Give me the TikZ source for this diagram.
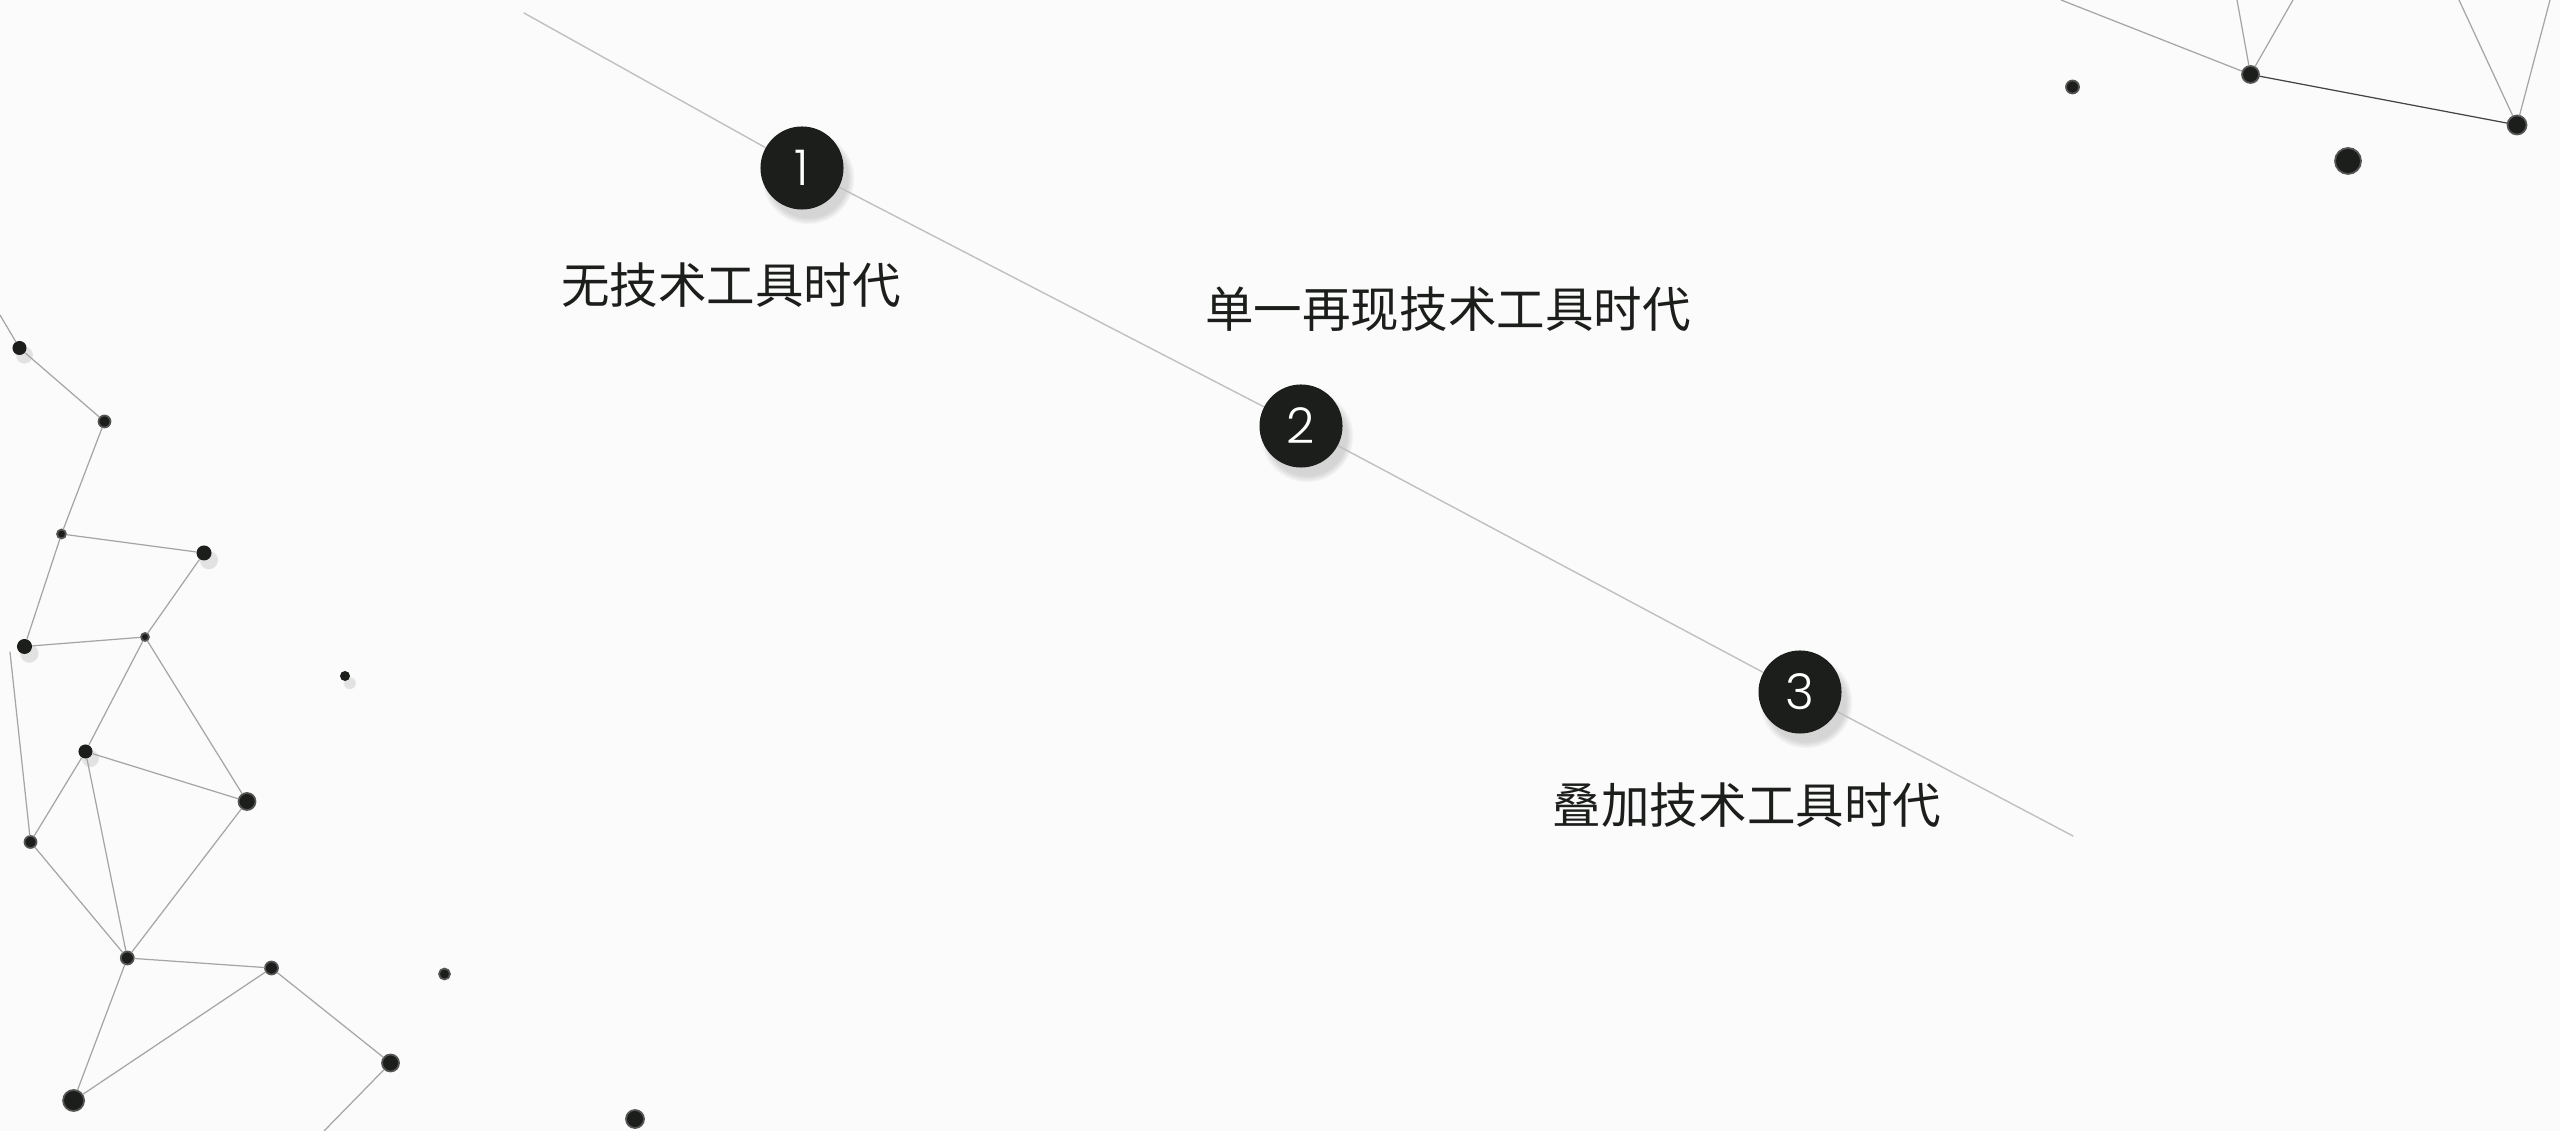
\documentclass[tikz,border=0pt]{standalone}
\usepackage{fontspec}
\newfontfamily\cjk{Noto Sans CJK SC}
\newfontfamily\numfont{Poppins Light}
\usetikzlibrary{shadows}
\definecolor{bgpaper}{RGB}{251,251,251}
\definecolor{inkdark}{RGB}{28,30,27}
\definecolor{rimgray}{RGB}{85,85,85}
\definecolor{linegray}{RGB}{192,192,192}
\definecolor{netgray}{RGB}{165,165,165}

\begin{document}
\begin{tikzpicture}[line cap=round,line join=round,x=0.01cm,y=-0.01cm,
  stage/.style={circle,inner sep=0pt,minimum size=0.83cm,fill=inkdark,text=white,
    font=\numfont\fontsize{14}{14}\selectfont,
    circular drop shadow={shadow xshift=1.5pt,shadow yshift=-2.5pt,shadow scale=1.12,opacity=0.3}},
  era/.style={text=inkdark,font=\cjk\fontsize{13.8}{16}\selectfont},
  knot/.style={circle,inner sep=0pt,minimum size=#1,fill=inkdark,draw=rimgray,line width=0.5pt},
  knotb/.style={circle,inner sep=0pt,minimum size=#1,fill=inkdark,
    circular drop shadow={shadow xshift=1pt,shadow yshift=-1.5pt,shadow scale=1.3,opacity=0.2}},
  link/.style={draw=netgray,line width=0.35pt}]
\useasboundingbox (0,0) rectangle (2560,1131);
\fill [bgpaper] (0,0) rectangle (2560,1131);

% timeline
\coordinate (ls) at (524,13);
\coordinate (le) at (2073,836);
\node [stage] (s1) at (802,168) {1};
\node [stage] (s2) at (1301,426) {2};
\node [stage] (s3) at (1800,692) {3};
\draw [draw=linegray,line width=0.4pt] (ls) -- (s1) -- (s2) -- (s3) -- (le);

\node [era] (e1) at (731,285) {无技术工具时代};
\node [era] (e2) at (1448,309) {单一再现技术工具时代};
\node [era] (e3) at (1747,805) {叠加技术工具时代};

% left network
\coordinate (t1) at (0,315);
\coordinate (t2) at (324,1131);
\coordinate (t8) at (10,652);
\node [knotb=0.14cm] (p1) at (19.5,348) {};
\node [knot=0.12cm] (p2) at (104.5,421.5) {};
\node [knot=0.09cm] (p3) at (61.5,534) {};
\node [knotb=0.15cm] (p4) at (204,553) {};
\node [knotb=0.15cm] (p5) at (24.5,646.5) {};
\node [knot=0.08cm] (p6) at (145,637) {};
\node [knotb=0.10cm] (p7) at (345,676) {};
\node [knotb=0.14cm] (p8) at (85.5,751.5) {};
\node [knot=0.17cm] (p9) at (247,801.5) {};
\node [knot=0.12cm] (p10) at (30.5,842) {};
\node [knot=0.13cm] (p11) at (127.3,958) {};
\node [knot=0.13cm] (p12) at (271.5,968) {};
\node [knot=0.11cm] (p13) at (444.5,974) {};
\node [knot=0.17cm] (p14) at (390.5,1063) {};
\node [knot=0.21cm] (p15) at (73.6,1100.5) {};
\node [knot=0.18cm] (p16) at (635,1119) {};

\draw [link] (t1) -- (p1);
\draw [link] (p1) -- (p2);
\draw [link] (p2) -- (p3);
\draw [link] (p3) -- (p4);
\draw [link] (p3) -- (p5);
\draw [link] (p4) -- (p6);
\draw [link] (p5) -- (p6);
\draw [link] (t8) -- (p10);
\draw [link] (p6) -- (p8);
\draw [link] (p6) -- (p9);
\draw [link] (p8) -- (p9);
\draw [link] (p8) -- (p10);
\draw [link] (p8) -- (p11);
\draw [link] (p9) -- (p11);
\draw [link] (p10) -- (p11);
\draw [link] (p11) -- (p12);
\draw [link] (p11) -- (p15);
\draw [link] (p12) -- (p15);
\draw [link] (p12) -- (p14);
\draw [link] (p14) -- (t2);

% top right network
\coordinate (t3) at (2061,0);
\coordinate (t4) at (2237,0);
\coordinate (t5) at (2293,0);
\coordinate (t6) at (2459,0);
\coordinate (t7) at (2550,0);
\node [knot=0.13cm] (q1) at (2072.5,87) {};
\node [knot=0.17cm] (q2) at (2250.5,74.5) {};
\node [knot=0.19cm] (q3) at (2517,125) {};
\node [knot=0.26cm] (q4) at (2348,161) {};

\draw [link] (t3) -- (q2);
\draw [link] (t4) -- (q2);
\draw [link] (t5) -- (q2);
\draw [link,draw=rimgray!80!black] (q2) -- (q3);
\draw [link] (t6) -- (q3);
\draw [link] (t7) -- (q3);
\end{tikzpicture}
\end{document}
